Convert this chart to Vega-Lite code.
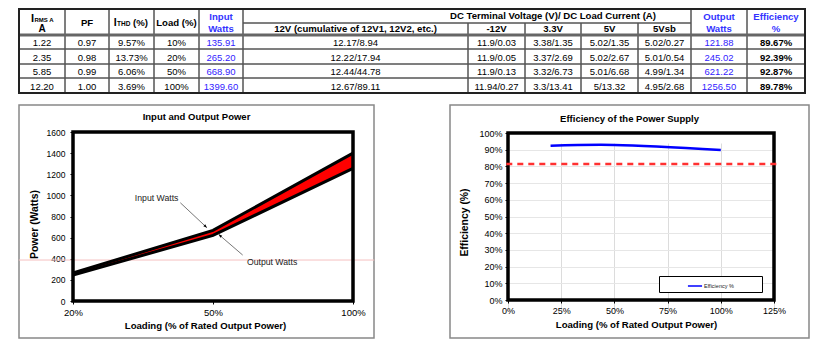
{
  "$schema": "https://vega.github.io/schema/vega-lite/v6.json",
  "background": "white",
  "padding": {"left": 17, "top": 8, "right": 0, "bottom": 0},
  "bounds": "flush",
  "spacing": 12,
  "config": {
    "font": "Liberation Sans",
    "view": {"stroke": null},
    "axis": {"labelFont": "Liberation Sans", "titleFont": "Liberation Sans", "labelColor": "black", "titleColor": "black", "domain": false, "ticks": true, "tickColor": "black", "tickSize": 3, "titleFontWeight": "bold", "grid": false, "labelOverlap": false, "labelFlush": false}
  },
  "datasets": {
    "head": [
      {"c0": 0, "c1": 1, "r0": 0, "r1": 2, "t": ""},
      {"c0": 1, "c1": 2, "r0": 0, "r1": 2, "t": "PF"},
      {"c0": 2, "c1": 3, "r0": 0, "r1": 2, "t": ""},
      {"c0": 3, "c1": 4, "r0": 0, "r1": 2, "t": "Load (%)"},
      {"c0": 4, "c1": 5, "r0": 0, "r1": 2, "t": "Input\nWatts"},
      {"c0": 5, "c1": 10, "r0": 0, "r1": 1, "t": "DC Terminal Voltage (V)/ DC Load Current (A)"},
      {"c0": 5, "c1": 6, "r0": 1, "r1": 2, "t": "12V (cumulative of 12V1, 12V2, etc.)"},
      {"c0": 6, "c1": 7, "r0": 1, "r1": 2, "t": "-12V"},
      {"c0": 7, "c1": 8, "r0": 1, "r1": 2, "t": "3.3V"},
      {"c0": 8, "c1": 9, "r0": 1, "r1": 2, "t": "5V"},
      {"c0": 9, "c1": 10, "r0": 1, "r1": 2, "t": "5Vsb"},
      {"c0": 10, "c1": 11, "r0": 0, "r1": 2, "t": "Output\nWatts"},
      {"c0": 11, "c1": 12, "r0": 0, "r1": 2, "t": "Efficiency\n%"}
    ],
    "body": [
      {"r": 2, "c": 0, "t": "1.22"}, {"r": 2, "c": 1, "t": "0.97"}, {"r": 2, "c": 2, "t": "9.57%"}, {"r": 2, "c": 3, "t": "10%"},
      {"r": 2, "c": 4, "t": "135.91"}, {"r": 2, "c": 5, "t": "12.17/8.94"}, {"r": 2, "c": 6, "t": "11.9/0.03"}, {"r": 2, "c": 7, "t": "3.38/1.35"},
      {"r": 2, "c": 8, "t": "5.02/1.35"}, {"r": 2, "c": 9, "t": "5.02/0.27"}, {"r": 2, "c": 10, "t": "121.88"}, {"r": 2, "c": 11, "t": "89.67%"},
      {"r": 3, "c": 0, "t": "2.35"}, {"r": 3, "c": 1, "t": "0.98"}, {"r": 3, "c": 2, "t": "13.73%"}, {"r": 3, "c": 3, "t": "20%"},
      {"r": 3, "c": 4, "t": "265.20"}, {"r": 3, "c": 5, "t": "12.22/17.94"}, {"r": 3, "c": 6, "t": "11.9/0.05"}, {"r": 3, "c": 7, "t": "3.37/2.69"},
      {"r": 3, "c": 8, "t": "5.02/2.67"}, {"r": 3, "c": 9, "t": "5.01/0.54"}, {"r": 3, "c": 10, "t": "245.02"}, {"r": 3, "c": 11, "t": "92.39%"},
      {"r": 4, "c": 0, "t": "5.85"}, {"r": 4, "c": 1, "t": "0.99"}, {"r": 4, "c": 2, "t": "6.06%"}, {"r": 4, "c": 3, "t": "50%"},
      {"r": 4, "c": 4, "t": "668.90"}, {"r": 4, "c": 5, "t": "12.44/44.78"}, {"r": 4, "c": 6, "t": "11.9/0.13"}, {"r": 4, "c": 7, "t": "3.32/6.73"},
      {"r": 4, "c": 8, "t": "5.01/6.68"}, {"r": 4, "c": 9, "t": "4.99/1.34"}, {"r": 4, "c": 10, "t": "621.22"}, {"r": 4, "c": 11, "t": "92.87%"},
      {"r": 5, "c": 0, "t": "12.20"}, {"r": 5, "c": 1, "t": "1.00"}, {"r": 5, "c": 2, "t": "3.69%"}, {"r": 5, "c": 3, "t": "100%"},
      {"r": 5, "c": 4, "t": "1399.60"}, {"r": 5, "c": 5, "t": "12.67/89.11"}, {"r": 5, "c": 6, "t": "11.94/0.27"}, {"r": 5, "c": 7, "t": "3.3/13.41"},
      {"r": 5, "c": 8, "t": "5/13.32"}, {"r": 5, "c": 9, "t": "4.95/2.68"}, {"r": 5, "c": 10, "t": "1256.50"}, {"r": 5, "c": 11, "t": "89.78%"}
    ],
    "power": [
      {"load": 20, "input": 265.20, "output": 245.02},
      {"load": 50, "input": 668.90, "output": 621.22},
      {"load": 100, "input": 1399.60, "output": 1256.50}
    ],
    "eff": [
      {"load": 20, "eff": 92.39, "series": "Efficiency %"},
      {"load": 50, "eff": 92.87, "series": "Efficiency %"},
      {"load": 100, "eff": 89.78, "series": "Efficiency %"}
    ],
    "notes": [
      {"label": "Input Watts", "tx": 42.6, "ty": 978, "x1": 43.0, "y1": 930, "x2": 48.7, "y2": 694},
      {"label": "Output Watts", "tx": 62.1, "ty": 369, "x1": 60.6, "y1": 435, "x2": 52.0, "y2": 631}
    ]
  },
  "vconcat": [
    {
      "width": 786,
      "height": 84,
      "view": {"stroke": null},
      "layer": [
        {
          "data": {"name": "head"},
          "mark": {"type": "rect", "fill": "transparent", "stroke": "#555", "strokeWidth": 1},
          "encoding": {
            "x": {"field": "c0", "type": "quantitative", "axis": null,
                  "scale": {"domain": [0, 1, 2, 3, 4, 5, 6, 7, 8, 9, 10, 11, 12], "range": [0, 46, 90, 135, 180, 224, 449, 506, 562, 619, 672, 728, 786], "nice": false, "zero": false}},
            "x2": {"field": "c1"},
            "y": {"field": "r0", "type": "quantitative", "axis": null,
                  "scale": {"domain": [0, 1, 2, 3, 4, 5, 6], "range": [0, 14, 26, 40, 55, 69, 84], "nice": false, "zero": false}},
            "y2": {"field": "r1"}
          }
        },
        {
          "data": {"name": "body"},
          "transform": [{"calculate": "datum.c + 1", "as": "c1"}, {"calculate": "datum.r + 1", "as": "r1"}],
          "mark": {"type": "rect", "fill": "transparent", "stroke": "#555", "strokeWidth": 1},
          "encoding": {
            "x": {"field": "c", "type": "quantitative"},
            "x2": {"field": "c1"},
            "y": {"field": "r", "type": "quantitative"},
            "y2": {"field": "r1"}
          }
        },
        {
          "data": {"values": [{}]},
          "mark": {"type": "rule", "color": "#666", "strokeWidth": 3},
          "encoding": {"x": {"datum": 0}, "x2": {"datum": 12}, "y": {"datum": 2}}
        },
        {
          "data": {"values": [{}]},
          "mark": {"type": "rect", "fill": "transparent", "stroke": "#222", "strokeWidth": 2},
          "encoding": {"x": {"datum": 0}, "x2": {"datum": 12}, "y": {"datum": 0}, "y2": {"datum": 6}}
        },
        {
          "data": {"name": "head"},
          "transform": [{"filter": "datum.t != '' && datum.c0 != 4 && datum.c0 < 10"}, {"calculate": "(datum.c0 + datum.c1) / 2", "as": "xm"}, {"calculate": "(datum.r0 + datum.r1) / 2", "as": "ym"}],
          "mark": {"type": "text", "fontSize": 9.6, "fontWeight": "bold", "baseline": "middle", "align": "center"},
          "encoding": {
            "x": {"field": "xm", "type": "quantitative"},
            "y": {"field": "ym", "type": "quantitative"},
            "text": {"field": "t", "type": "nominal"},
            "color": {"value": "black"}
          }
        },
        {
          "data": {"name": "head"},
          "transform": [{"filter": "datum.c0 == 4 || datum.c0 >= 10"}, {"calculate": "(datum.c0 + datum.c1) / 2", "as": "xm"}, {"calculate": "(datum.r0 + datum.r1) / 2", "as": "ym"}],
          "mark": {"type": "text", "fontSize": 9.6, "fontWeight": "bold", "lineBreak": "\n", "lineHeight": 12, "baseline": "middle", "align": "center", "dy": -6},
          "encoding": {
            "x": {"field": "xm", "type": "quantitative"},
            "y": {"field": "ym", "type": "quantitative"},
            "text": {"field": "t", "type": "nominal"},
            "color": {"value": "#3333ff"}
          }
        },
        {
          "data": {"name": "body"},
          "transform": [{"filter": "datum.c != 11"}, {"calculate": "datum.c + 0.5", "as": "xm"}, {"calculate": "datum.r + 0.5", "as": "ym"}],
          "mark": {"type": "text", "fontSize": 9.5, "baseline": "middle", "align": "center", "dy": 1},
          "encoding": {
            "x": {"field": "xm", "type": "quantitative"},
            "y": {"field": "ym", "type": "quantitative"},
            "text": {"field": "t", "type": "nominal"},
            "color": {"condition": {"test": "datum.c == 4 || datum.c == 10", "value": "#3322ff"}, "value": "black"}
          }
        },
        {
          "data": {"name": "body"},
          "transform": [{"filter": "datum.c == 11"}, {"calculate": "datum.c + 0.5", "as": "xm"}, {"calculate": "datum.r + 0.5", "as": "ym"}],
          "mark": {"type": "text", "fontSize": 9.5, "fontWeight": "bold", "baseline": "middle", "align": "center", "dy": 1, "color": "black"},
          "encoding": {
            "x": {"field": "xm", "type": "quantitative"},
            "y": {"field": "ym", "type": "quantitative"},
            "text": {"field": "t", "type": "nominal"}
          }
        },
        {
          "data": {"values": [{}]},
          "mark": {"type": "text", "text": "I", "fontSize": 11, "fontWeight": "bold", "baseline": "alphabetic", "align": "center", "dx": -9.5, "dy": -1.5, "color": "black"},
          "encoding": {"x": {"datum": 0.5}, "y": {"datum": 1}}
        },
        {
          "data": {"values": [{}]},
          "mark": {"type": "text", "text": "RMS A", "fontSize": 6, "fontWeight": "bold", "baseline": "alphabetic", "align": "left", "dx": -7.5, "dy": -1.5, "color": "black"},
          "encoding": {"x": {"datum": 0.5}, "y": {"datum": 1}}
        },
        {
          "data": {"values": [{}]},
          "mark": {"type": "text", "text": "A", "fontSize": 10, "fontWeight": "bold", "baseline": "middle", "align": "center", "color": "black"},
          "encoding": {"x": {"datum": 0.5}, "y": {"datum": 1.5}}
        },
        {
          "data": {"values": [{}]},
          "mark": {"type": "text", "text": "I", "fontSize": 10.5, "fontWeight": "bold", "baseline": "alphabetic", "align": "center", "dx": -16.2, "dy": 3, "color": "black"},
          "encoding": {"x": {"datum": 2.5}, "y": {"datum": 1}}
        },
        {
          "data": {"values": [{}]},
          "mark": {"type": "text", "text": "THD", "fontSize": 6.5, "fontWeight": "bold", "baseline": "alphabetic", "align": "left", "dx": -14.5, "dy": 3, "color": "black"},
          "encoding": {"x": {"datum": 2.5}, "y": {"datum": 1}}
        },
        {
          "data": {"values": [{}]},
          "mark": {"type": "text", "text": "(%)", "fontSize": 9.6, "fontWeight": "bold", "baseline": "alphabetic", "align": "left", "dx": 1.5, "dy": 3, "color": "black"},
          "encoding": {"x": {"datum": 2.5}, "y": {"datum": 1}}
        }
      ]
    },
    {
      "bounds": "flush",
      "spacing": 76,
      "hconcat": [
        {
          "width": 355,
          "height": 233,
          "view": {"stroke": "#888", "strokeWidth": 1.5},
          "title": {"text": "Input and Output Power", "font": "Liberation Sans", "fontSize": 9.5, "fontWeight": "bold", "color": "black", "anchor": "middle", "frame": "group", "offset": -21, "baseline": "middle"},
          "layer": [
            {
              "data": {"values": [{}]},
              "mark": {"type": "rule", "color": "#f5c0c0", "strokeWidth": 1},
              "encoding": {
                "x": {"datum": 8.4, "type": "quantitative", "scale": {"domain": [20, 50, 100], "range": [54, 194, 334], "nice": false, "zero": false},
                      "axis": {"values": [20, 50, 100], "labelExpr": "datum.value + '%'", "offset": -37, "title": "Loading (% of Rated Output Power)", "titleFontSize": 9.6, "labelFontSize": 9.5, "labelPadding": 3, "titlePadding": 4, "titleX": 186, "labelOverlap": false}},
                "x2": {"datum": 107.6},
                "y": {"datum": 388, "type": "quantitative", "scale": {"domain": [0, 1600], "range": [196, 27], "nice": false, "zero": false},
                      "axis": {"values": [0, 200, 400, 600, 800, 1000, 1200, 1400, 1600], "tickCount": 9, "format": "d", "offset": -54, "title": "Power (Watts)", "titleFontSize": 10.4, "labelFontSize": 8.5, "labelPadding": 5, "titleBaseline": "middle", "titleX": -39, "titleY": 119, "labelOverlap": false}}
              }
            },
            {
              "data": {"name": "power"},
              "mark": {"type": "area", "color": "#ff0000", "opacity": 1},
              "encoding": {
                "x": {"field": "load", "type": "quantitative"},
                "y": {"field": "output", "type": "quantitative"},
                "y2": {"field": "input"}
              }
            },
            {
              "data": {"name": "power"},
              "mark": {"type": "line", "color": "black", "strokeWidth": 3},
              "encoding": {
                "x": {"field": "load", "type": "quantitative"},
                "y": {"field": "input", "type": "quantitative"}
              }
            },
            {
              "data": {"name": "power"},
              "mark": {"type": "line", "color": "black", "strokeWidth": 3},
              "encoding": {
                "x": {"field": "load", "type": "quantitative"},
                "y": {"field": "output", "type": "quantitative"}
              }
            },
            {
              "data": {"values": [{}]},
              "mark": {"type": "rect", "fill": "transparent", "stroke": "black", "strokeWidth": 3.5},
              "encoding": {"x": {"datum": 20}, "x2": {"datum": 100}, "y": {"datum": 0}, "y2": {"datum": 1600}}
            },
            {
              "data": {"name": "notes"},
              "mark": {"type": "rule", "color": "#777", "strokeWidth": 1},
              "encoding": {
                "x": {"field": "x1", "type": "quantitative"},
                "x2": {"field": "x2"},
                "y": {"field": "y1", "type": "quantitative"},
                "y2": {"field": "y2"}
              }
            },
            {
              "data": {"name": "notes"},
              "transform": [{"filter": "datum.label == 'Input Watts'"}],
              "mark": {"type": "point", "shape": "M0,0L-0.7,1.8L0.7,1.8Z", "size": 16, "filled": true, "color": "black", "opacity": 1, "angle": 133},
              "encoding": {
                "x": {"field": "x2", "type": "quantitative"},
                "y": {"field": "y2", "type": "quantitative"}
              }
            },
            {
              "data": {"name": "notes"},
              "transform": [{"filter": "datum.label == 'Output Watts'"}],
              "mark": {"type": "point", "shape": "M0,0L-0.7,1.8L0.7,1.8Z", "size": 16, "filled": true, "color": "black", "opacity": 1, "angle": 311},
              "encoding": {
                "x": {"field": "x2", "type": "quantitative"},
                "y": {"field": "y2", "type": "quantitative"}
              }
            },
            {
              "data": {"name": "notes"},
              "transform": [{"filter": "datum.label == 'Input Watts'"}],
              "mark": {"type": "text", "fontSize": 8.7, "align": "right", "baseline": "middle", "color": "#222"},
              "encoding": {
                "x": {"field": "tx", "type": "quantitative"},
                "y": {"field": "ty", "type": "quantitative"},
                "text": {"field": "label"}
              }
            },
            {
              "data": {"name": "notes"},
              "transform": [{"filter": "datum.label == 'Output Watts'"}],
              "mark": {"type": "text", "fontSize": 8.7, "align": "left", "baseline": "middle", "color": "#222"},
              "encoding": {
                "x": {"field": "tx", "type": "quantitative"},
                "y": {"field": "ty", "type": "quantitative"},
                "text": {"field": "label"}
              }
            }
          ]
        },
        {
          "width": 359,
          "height": 233,
          "view": {"stroke": "#888", "strokeWidth": 1.5},
          "title": {"text": "Efficiency of the Power Supply", "font": "Liberation Sans", "fontSize": 9.5, "fontWeight": "bold", "color": "black", "anchor": "middle", "frame": "group", "offset": -23, "baseline": "middle"},
          "layer": [
            {
              "data": {"name": "eff"},
              "mark": {"type": "line", "interpolate": "catmull-rom", "strokeWidth": 2.5},
              "encoding": {
                "x": {"field": "load", "type": "quantitative", "scale": {"domain": [0, 125], "range": [58, 324], "nice": false, "zero": false},
                      "axis": {"values": [0, 25, 50, 75, 100, 125], "labelExpr": "datum.value + '%'", "offset": -38, "grid": true, "gridColor": "#dcdcdc", "title": "Loading (% of Rated Output Power)", "titleFontSize": 9.6, "labelFontSize": 9, "labelPadding": 3, "titlePadding": 4, "titleX": 186, "labelOverlap": false}},
                "y": {"field": "eff", "type": "quantitative", "scale": {"domain": [0, 100], "range": [195, 28], "nice": false, "zero": false},
                      "axis": {"values": [0, 10, 20, 30, 40, 50, 60, 70, 80, 90, 100], "tickCount": 11, "labelExpr": "datum.value + '%'", "offset": -58, "grid": true, "gridColor": "#e6e6e6", "title": "Efficiency (%)", "titleFontSize": 10.4, "labelFontSize": 9, "labelPadding": 3, "titleBaseline": "middle", "titleX": -44, "titleY": 117, "labelOverlap": false}},
                "color": {"field": "series", "type": "nominal", "scale": {"range": ["#0000ff"]},
                          "legend": {"orient": "none", "legendX": 640, "legendY": 267, "title": " ", "titleOrient": "right", "titlePadding": 26, "titleFontSize": 5, "strokeColor": "black", "fillColor": "white", "padding": 2, "symbolType": "stroke", "symbolSize": 200, "symbolStrokeWidth": 1.5, "symbolOffset": 26, "labelFontSize": 5.5, "labelOffset": 1, "labelColor": "#222"}}
              }
            },
            {
              "data": {"values": [{}]},
              "mark": {"type": "rect", "fill": "transparent", "stroke": "black", "strokeWidth": 3.5},
              "encoding": {"x": {"datum": 0}, "x2": {"datum": 125}, "y": {"datum": 0}, "y2": {"datum": 100}}
            },
            {
              "data": {"values": [{}]},
              "mark": {"type": "rule", "color": "#ff3030", "strokeWidth": 2.5, "strokeDash": [6, 5]},
              "encoding": {"x": {"datum": -0.8}, "x2": {"datum": 126.5}, "y": {"datum": 81.5}}
            }
          ]
        }
      ]
    }
  ]
}
